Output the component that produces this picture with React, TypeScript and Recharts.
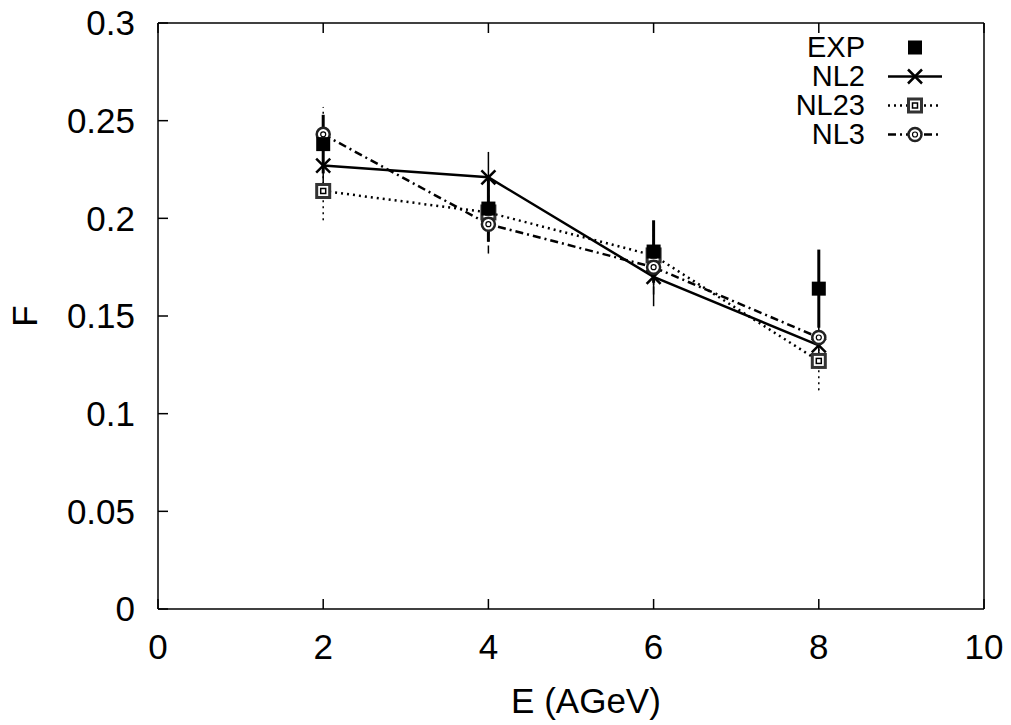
import React from "react";
import {
  ComposedChart,
  Line,
  XAxis,
  YAxis,
  ErrorBar,
  Legend,
} from "recharts";

const ENERGY = [2, 4, 6, 8];
const EXP = [0.238, 0.205, 0.183, 0.164];
const EXP_ERR = [0.015, 0.017, 0.016, 0.02];
const NL2 = [0.227, 0.221, 0.17, 0.135];
const NL2_ERR = [0.012, 0.013, 0.015, 0.012];
const NL23 = [0.214, 0.203, 0.181, 0.127];
const NL23_ERR = [0.015, 0.014, 0.015, 0.015];
const NL3 = [0.243, 0.197, 0.175, 0.139];
const NL3_ERR = [0.014, 0.015, 0.014, 0.013];

const X_TICKS = [0, 2, 4, 6, 8, 10];
const Y_TICKS = [0, 0.05, 0.1, 0.15, 0.2, 0.25, 0.3];
const Y_LABELS = ["0", "0.05", "0.1", "0.15", "0.2", "0.25", "0.3"];

const data = ENERGY.map((e, i) => ({
  e,
  exp: EXP[i],
  expErr: EXP_ERR[i],
  nl2: NL2[i],
  nl2Err: NL2_ERR[i],
  nl23: NL23[i],
  nl23Err: NL23_ERR[i],
  nl3: NL3[i],
  nl3Err: NL3_ERR[i],
}));

const FONT = "'Liberation Sans', Arial, Helvetica, sans-serif";
const DOTTED = "2 4";
const DASHDOT = "8 4 2 4";

type Mark = "exp" | "nl2" | "nl23" | "nl3";

function marker(kind: Mark, cx: number, cy: number, key?: string | number) {
  if (kind === "exp") {
    return <rect key={key} x={cx - 7} y={cy - 7} width={14} height={14} fill="#000" />;
  }
  if (kind === "nl2") {
    return (
      <g key={key} stroke="#000" strokeWidth={2.5}>
        <line x1={cx - 7} y1={cy - 7} x2={cx + 7} y2={cy + 7} />
        <line x1={cx - 7} y1={cy + 7} x2={cx + 7} y2={cy - 7} />
      </g>
    );
  }
  if (kind === "nl23") {
    return (
      <g key={key}>
        <rect x={cx - 6.5} y={cy - 6.5} width={13} height={13} fill="#fff" stroke="#333" strokeWidth={3} />
        <rect x={cx - 2.5} y={cy - 2.5} width={5} height={5} fill="none" stroke="#000" strokeWidth={1.5} />
      </g>
    );
  }
  return (
    <g key={key}>
      <circle cx={cx} cy={cy} r={6.5} fill="#fff" stroke="#222" strokeWidth={2.5} />
      <circle cx={cx} cy={cy} r={2.5} fill="none" stroke="#000" strokeWidth={1.2} />
    </g>
  );
}

const dotFor = (kind: Mark) => (props: any) => marker(kind, props.cx, props.cy, props.key ?? `${kind}-${props.index}`);

const LEGEND_ROWS: { name: string; kind: Mark; dash?: string; line: boolean }[] = [
  { name: "EXP", kind: "exp", line: false },
  { name: "NL2", kind: "nl2", line: true },
  { name: "NL23", kind: "nl23", dash: DOTTED, line: true },
  { name: "NL3", kind: "nl3", dash: DASHDOT, line: true },
];

function KeyBox() {
  return (
    <div style={{ fontFamily: FONT, fontSize: 29, color: "#000" }}>
      {LEGEND_ROWS.map((row) => (
        <div key={row.name} style={{ display: "flex", alignItems: "center", height: 29 }}>
          <span style={{ width: 105, textAlign: "right", lineHeight: "29px" }}>{row.name}</span>
          <svg width={80} height={29} style={{ marginLeft: 23 }}>
            {row.line && (
              <line x1={0} y1={14.5} x2={54} y2={14.5} stroke="#000" strokeWidth={2.5} strokeDasharray={row.dash} />
            )}
            {marker(row.kind, 27, 14.5)}
          </svg>
        </div>
      ))}
    </div>
  );
}

const tickStyle = { fontSize: 35, fill: "#000", fontFamily: FONT };

export default function App() {
  return (
    <div style={{ position: "absolute", left: 0, top: 0, background: "#fff" }}>
      <ComposedChart width={1011} height={725} data={data} margin={{ top: 0, right: 0, bottom: 0, left: 0 }}>
        <XAxis
          dataKey="e"
          type="number"
          domain={[0, 10]}
          ticks={X_TICKS}
          interval={0}
          height={116}
          tickSize={-10}
          tickMargin={35}
          tick={tickStyle}
          stroke="#000"
          axisLine={{ stroke: "#000", strokeWidth: 1.5 }}
          tickLine={{ stroke: "#000", strokeWidth: 1.5 }}
          label={{ value: "E (AGeV)", position: "insideBottom", offset: 12, dx: 15, fontSize: 35, fill: "#000", fontFamily: FONT }}
        />
        <XAxis
          xAxisId="top"
          orientation="top"
          dataKey="e"
          type="number"
          domain={[0, 10]}
          ticks={X_TICKS}
          interval={0}
          height={23}
          tickSize={-10}
          tickFormatter={() => ""}
          axisLine={{ stroke: "#000", strokeWidth: 1.5 }}
          tickLine={{ stroke: "#000", strokeWidth: 1.5 }}
        />
        <YAxis
          type="number"
          domain={[0, 0.3]}
          ticks={Y_TICKS}
          interval={0}
          width={158}
          tickSize={-10}
          tickMargin={33}
          tick={tickStyle}
          tickFormatter={(v: number) => Y_LABELS[Y_TICKS.indexOf(v)] ?? String(v)}
          axisLine={{ stroke: "#000", strokeWidth: 1.5 }}
          tickLine={{ stroke: "#000", strokeWidth: 1.5 }}
          label={{ value: "F", angle: -90, position: "center", dx: -54, fontSize: 35, fill: "#000", fontFamily: FONT }}
        />
        <YAxis
          yAxisId="right"
          orientation="right"
          type="number"
          domain={[0, 0.3]}
          ticks={Y_TICKS}
          interval={0}
          width={27}
          tickSize={-10}
          tickFormatter={() => ""}
          axisLine={{ stroke: "#000", strokeWidth: 1.5 }}
          tickLine={{ stroke: "#000", strokeWidth: 1.5 }}
        />
        <Legend
          layout="vertical"
          align="center"
          verticalAlign="middle"
          wrapperStyle={{ top: 33, left: 760, width: 220 }}
          content={() => <KeyBox />}
        />
        <Line
          dataKey="nl2"
          stroke="#000"
          strokeWidth={2.5}
          dot={dotFor("nl2")}
          activeDot={false}
          isAnimationActive={false}
        >
          <ErrorBar dataKey="nl2Err" width={0} stroke="#000" strokeWidth={1.5} direction="y" />
        </Line>
        <Line
          dataKey="nl23"
          stroke="#000"
          strokeWidth={2.5}
          strokeDasharray={DOTTED}
          dot={dotFor("nl23")}
          activeDot={false}
          isAnimationActive={false}
        >
          <ErrorBar dataKey="nl23Err" width={0} stroke="#000" strokeWidth={1.5} strokeDasharray={DOTTED} direction="y" />
        </Line>
        <Line
          dataKey="nl3"
          stroke="#000"
          strokeWidth={2.5}
          strokeDasharray={DASHDOT}
          dot={dotFor("nl3")}
          activeDot={false}
          isAnimationActive={false}
        >
          <ErrorBar dataKey="nl3Err" width={0} stroke="#000" strokeWidth={1.5} strokeDasharray={DASHDOT} direction="y" />
        </Line>
        <Line
          dataKey="exp"
          stroke="none"
          dot={dotFor("exp")}
          activeDot={false}
          isAnimationActive={false}
        >
          <ErrorBar dataKey="expErr" width={0} stroke="#000" strokeWidth={3} direction="y" />
        </Line>
      </ComposedChart>
    </div>
  );
}
